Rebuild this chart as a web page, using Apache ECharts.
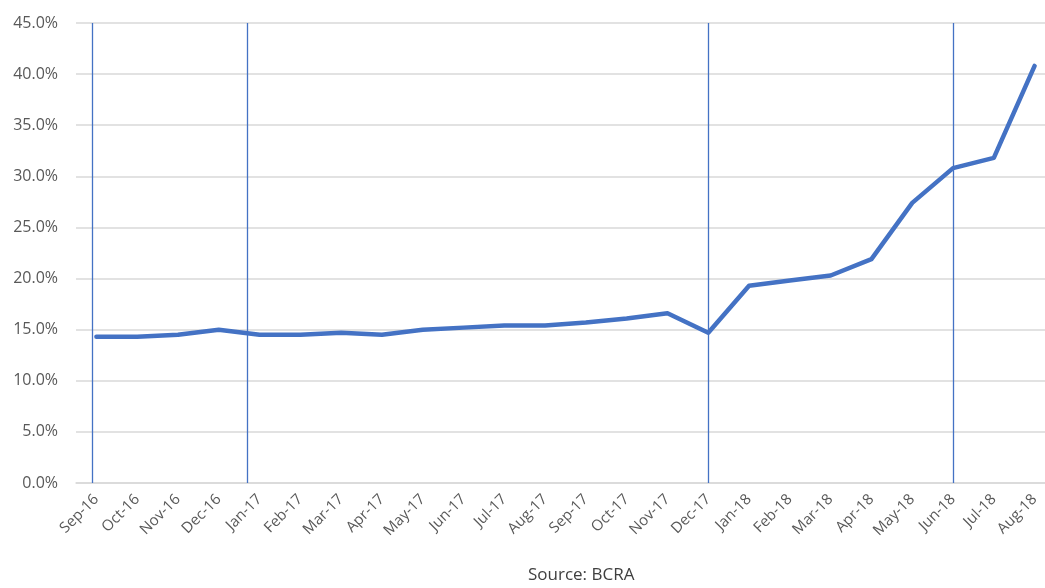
<!DOCTYPE html>
<html>
<head>
<meta charset="utf-8">
<script src="https://cdn.jsdelivr.net/npm/echarts@6/dist/echarts.min.js"></script>
<style>
  html, body { margin: 0; padding: 0; background: #ffffff; }
  #chart { width: 1045px; height: 588px; }
</style>
</head>
<body>
<div id="chart"></div>
<script>
// Monthly categories
const months = ['Sep-16','Oct-16','Nov-16','Dec-16','Jan-17','Feb-17','Mar-17','Apr-17','May-17','Jun-17',
  'Jul-17','Aug-17','Sep-17','Oct-17','Nov-17','Dec-17','Jan-18','Feb-18','Mar-18','Apr-18',
  'May-18','Jun-18','Jul-18','Aug-18'];

// Rate, in percent
const rates = [14.3, 14.3, 14.5, 15.0, 14.5, 14.5, 14.7, 14.5, 15.0, 15.2,
  15.4, 15.4, 15.7, 16.1, 16.6, 14.7, 19.3, 19.8, 20.3, 21.9,
  27.4, 30.8, 31.8, 40.8];

// Y axis scale
const yMin = 0, yMax = 45, yStep = 5;

// Vertical marker positions, in month-index units
const markerPositions = [-0.1, 3.7, 15.0, 21.0];

const source = 'Source: BCRA';

const blue = '#4472C4';
const labelColor = '#595959';
const fontFamily = '"Open Sans", "DejaVu Sans", sans-serif';

const chart = echarts.init(document.getElementById('chart'));
chart.setOption({
  backgroundColor: '#ffffff',
  animation: false,
  // plot runs slightly past the right edge of the canvas
  grid: {
    left: 76, width: 979, top: 23, bottom: 105,
    containLabel: false,
    outerBoundsMode: 'none'
  },
  xAxis: [
    {
      type: 'category',
      data: months,
      boundaryGap: true,
      axisLine: { lineStyle: { color: '#d9d9d9', width: 1.5 } },
      axisTick: { show: false },
      axisLabel: {
        rotate: 45,
        interval: 0,
        margin: 14,
        color: labelColor,
        fontSize: 15,
        fontFamily: fontFamily
      }
    },
    {
      type: 'value',
      min: -0.5,
      max: months.length - 0.5,
      show: false
    }
  ],
  yAxis: {
    type: 'value',
    min: yMin,
    max: yMax,
    interval: yStep,
    axisLine: { show: false },
    axisTick: { show: false },
    splitLine: { lineStyle: { color: '#d9d9d9', width: 1.5 } },
    axisLabel: {
      margin: 18,
      color: labelColor,
      fontSize: 16,
      fontFamily: fontFamily,
      formatter: v => v.toFixed(1) + '%'
    }
  },
  series: [
    {
      type: 'line',
      xAxisIndex: 1,
      data: [],
      silent: true,
      markLine: {
        symbol: 'none',
        silent: true,
        label: { show: false },
        lineStyle: { color: blue, width: 1.3, type: 'solid' },
        data: markerPositions.map(v => ({ xAxis: v }))
      }
    },
    {
      type: 'line',
      data: rates,
      showSymbol: false,
      symbol: 'none',
      lineStyle: { color: blue, width: 4.5, cap: 'round', join: 'round' },
      z: 5
    }
  ],
  graphic: [
    {
      type: 'text',
      left: 528,
      top: 567,
      style: {
        text: source,
        fill: '#404040',
        fontSize: 17,
        fontFamily: fontFamily
      }
    }
  ]
});
</script>
</body>
</html>
